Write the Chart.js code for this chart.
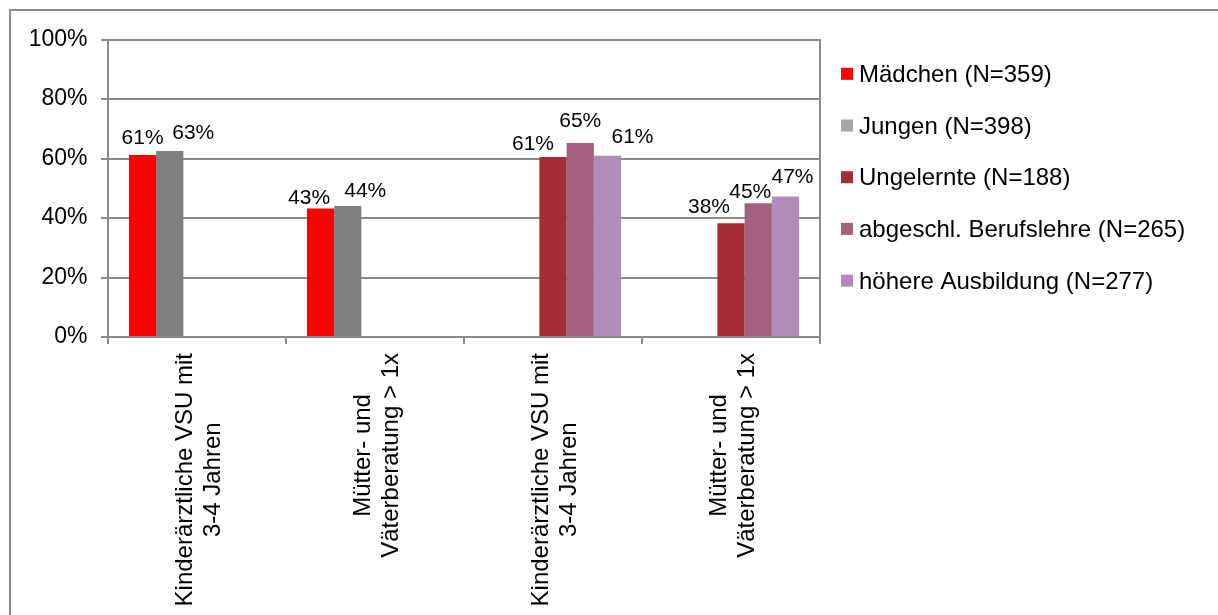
<!DOCTYPE html>
<html>
<head>
<meta charset="utf-8">
<script src="https://cdn.jsdelivr.net/npm/chart.js@4"></script>
<style>
  html, body { margin: 0; padding: 0; background: #fff; overflow: hidden; }
  #wrap { width: 1218px; height: 615px; }
</style>
</head>
<body>
<div id="wrap"><canvas id="chart" width="1218" height="615"></canvas></div>
<script>
// categories (x axis), each split in two lines
const categories = [
  ['Kinderärztliche VSU mit', '3-4 Jahren'],
  ['Mütter- und', 'Väterberatung > 1x'],
  ['Kinderärztliche VSU mit', '3-4 Jahren'],
  ['Mütter- und', 'Väterberatung > 1x']
];

// series values in percent (null = no bar in that group)
const seriesNames = [
  'Mädchen (N=359)',
  'Jungen (N=398)',
  'Ungelernte (N=188)',
  'abgeschl. Berufslehre (N=265)',
  'höhere Ausbildung (N=277)'
];
const maedchen   = [61.2, 43.2, null, null];
const jungen     = [62.5, 44.0, null, null];
const ungelernte = [null, null, 60.5, 38.2];
const berufslehre = [null, null, 65.2, 45.0];
const hoehere    = [null, null, 60.9, 47.2];

const yTicks = [0, 20, 40, 60, 80, 100];

const barColors    = ['#ff0000', '#808080', '#a42c37', '#a5607e', '#b18cb8'];
const legendColors = ['#ff0000', '#a6a6a6', '#a42c37', '#a5607e', '#b18cb8'];

// label nudges (Excel pushed some labels sideways/up to avoid overlap)
const labelDx  = [[0, -11.5, 0, 0], [23.5, 17.5, 0, 0], [0, 0, -20, -22], [0, 0, 0, -8], [0, 0, 25, 7]];
const labelGap = [[11, 4, 0, 0], [12, 9, 0, 0], [0, 0, 7, 10], [0, 0, 16, 5], [0, 0, 13, 13.5]];

const FONT = "'Liberation Sans', Arial, sans-serif";
const GRID = '#8a8a8a';

const allSeries = [maedchen, jungen, ungelernte, berufslehre, hoehere];

const frame = {
  id: 'frame',
  beforeDraw(chart) {
    const ctx = chart.ctx;
    ctx.save();
    ctx.strokeStyle = GRID;
    ctx.lineWidth = 2;
    ctx.strokeRect(10, 10, 1400, 800);
    ctx.restore();
  }
};

const barLabels = {
  id: 'barLabels',
  afterDatasetsDraw(chart) {
    const ctx = chart.ctx;
    ctx.save();
    ctx.font = '21px ' + FONT;
    ctx.fillStyle = '#000';
    ctx.textAlign = 'center';
    ctx.textBaseline = 'alphabetic';
    chart.data.datasets.forEach((ds, di) => {
      const meta = chart.getDatasetMeta(di);
      meta.data.forEach((bar, i) => {
        const v = ds.data[i];
        if (v == null) return;
        ctx.fillText(Math.round(v) + '%', bar.x + labelDx[di][i], bar.y - labelGap[di][i]);
      });
    });
    ctx.restore();
  }
};

const xLabels = {
  id: 'xLabels',
  afterDraw(chart) {
    const ctx = chart.ctx;
    const xs = chart.scales.x;
    ctx.save();
    ctx.font = '24px ' + FONT;
    ctx.fillStyle = '#000';
    ctx.textAlign = 'center';
    ctx.textBaseline = 'alphabetic';
    categories.forEach((lines, i) => {
      const x = xs.getPixelForTick(i);
      const maxW = Math.max(...lines.map(l => ctx.measureText(l).width));
      lines.forEach((line, j) => {
        const cx = x - 14 + j * 28.5;
        ctx.save();
        ctx.translate(cx + 8.6, 353);
        ctx.rotate(-Math.PI / 2);
        ctx.fillText(line, -maxW / 2, 0);
        ctx.restore();
      });
    });
    ctx.restore();
  }
};

const legendBox = {
  id: 'legendBox',
  afterDraw(chart) {
    const ctx = chart.ctx;
    ctx.save();
    ctx.font = '24px ' + FONT;
    ctx.textAlign = 'left';
    ctx.textBaseline = 'alphabetic';
    seriesNames.forEach((name, i) => {
      const cy = 73.8 + i * 51.7;
      ctx.fillStyle = legendColors[i];
      ctx.fillRect(841, cy - 6, 12, 12);
      ctx.fillStyle = '#000';
      ctx.fillText(name, 859, cy + 8);
    });
    ctx.restore();
  }
};

const chart = new Chart(document.getElementById('chart'), {
  type: 'bar',
  data: {
    labels: categories.map(c => c.join(' ')),
    datasets: seriesNames.map((name, i) => ({
      label: name,
      data: allSeries[i],
      backgroundColor: barColors[i],
      borderWidth: 0,
      categoryPercentage: 0.765,
      barPercentage: 1
    }))
  },
  options: {
    responsive: false,
    animation: false,
    layout: { padding: { left: 0, top: 39.5, right: 398, bottom: 271 } },
    plugins: {
      legend: { display: false },
      tooltip: { enabled: false }
    },
    scales: {
      x: {
        grid: { drawOnChartArea: false, drawTicks: true, tickLength: 7, color: GRID, lineWidth: 2 },
        border: { color: GRID, width: 2 },
        ticks: { display: false }
      },
      y: {
        min: 0,
        max: 100,
        afterBuildTicks(scale) {
          scale.ticks = yTicks.map(v => ({ value: v }));
        },
        afterFit(scale) { scale.width = 108; },
        grid: { color: GRID, lineWidth: 2, tickLength: 7 },
        border: { color: GRID, width: 2 },
        ticks: {
          padding: 13.5,
          color: '#000',
          font: { family: FONT, size: 23 },
          callback: v => v + '%'
        }
      },
      y2: {
        position: 'right',
        grid: { display: false, drawTicks: false },
        ticks: { display: false },
        border: { display: true, color: GRID, width: 2 }
      }
    }
  },
  plugins: [frame, barLabels, xLabels, legendBox]
});
</script>
</body>
</html>
